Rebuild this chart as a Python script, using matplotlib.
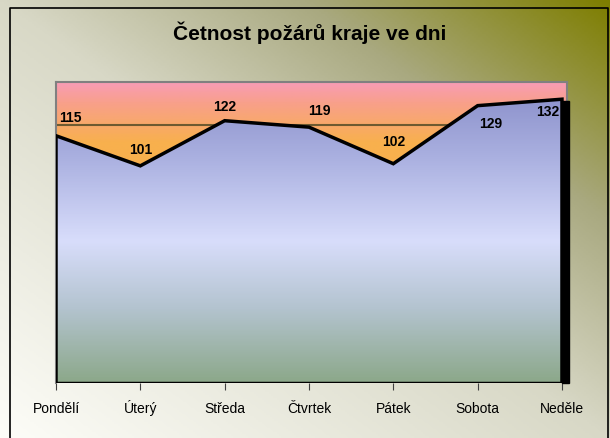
import numpy as np
import matplotlib.pyplot as plt
from matplotlib.colors import LinearSegmentedColormap
from matplotlib.patches import Rectangle

plt.rcParams['font.family'] = ['Liberation Sans', 'DejaVu Sans']

dny = ['Pondělí', 'Úterý', 'Středa', 'Čtvrtek', 'Pátek', 'Sobota', 'Neděle']
pocty = [115, 101, 122, 119, 102, 129, 132]
# posun popisků (px) vůči bodu
posun_x = [14, 0, 0, 10, 0, 13, -14]
posun_y = [18, 16, 14, 16, 22, -18, -13]

W, H = 610, 438
fig = plt.figure(figsize=(W / 100, H / 100), dpi=100)

# pozadí celé plochy - diagonální přechod do olivové
bg = fig.add_axes([0, 0, 1, 1], zorder=-10)
gx, gy = np.meshgrid(np.linspace(0, 1, 300), np.linspace(1, 0, 220))
t = (gx + gy) / 2
cm_bg = LinearSegmentedColormap.from_list('bg', [(0, '#fdfdf8'), (0.5, '#d8d8c6'),
                                                (0.75, '#a9a980'), (1, '#7e7e00')])
bg.imshow(t, cmap=cm_bg, extent=[0, W, 0, H], aspect='auto', origin='upper')
bg.plot([10, 10, 608, 608], [-5, H - 8, H - 8, -5], color='black', lw=1.2)
bg.set_xlim(0, W)
bg.set_ylim(0, H)
bg.axis('off')

left, right, top, bottom = 56, 567, 82, 383
ax = fig.add_axes([left / W, (H - bottom) / H, (right - left) / W, (bottom - top) / H])
krok = 84.33
x = np.arange(len(dny))
ax.set_xlim(0, (right - left) / krok)
ax.set_ylim(0, 140)

# pozadí grafu: růžová nahoře, oranžová níže
cm_plot = LinearSegmentedColormap.from_list('pl', [(0, '#f8b04a'), (0.8, '#f8b04e'),
                                                  (0.93, '#f8a08a'), (1, '#f89cb6')])
yy = np.linspace(0, 1, 200).reshape(-1, 1)
ax.imshow(yy, cmap=cm_plot, extent=[0, 6.06, 0, 140], aspect='auto', origin='lower', zorder=0)

for g in range(20, 140, 20):
    ax.axhline(g, color='#6e5a30', lw=1.5, zorder=1)

# plocha s přechodem
cm_area = LinearSegmentedColormap.from_list('ar', [(0, '#8ca88a'), (0.25, '#b4c4d0'),
                                                  (0.47, '#d8ddfb'), (0.75, '#aab0e0'),
                                                  (1, '#878cc8')])
poly = ax.fill_between(x, pocty, 0, color='none', zorder=2)
img = ax.imshow(yy, cmap=cm_area, extent=[0, 6.06, 0, 140], aspect='auto',
                origin='lower', zorder=2)
img.set_clip_path(poly.get_paths()[0], transform=ax.transData)

ax.plot(np.r_[0, x, 6], np.r_[0, pocty, 0], color='black', lw=2.5, zorder=3,
        solid_joinstyle='miter')
ax.plot([0, 6], [0, 0], color='black', lw=2.5, zorder=3)
ax.add_patch(Rectangle((6, 0), 7 / krok, pocty[-1] - 1, color='black', zorder=3,
                       clip_on=False))

for i, v in enumerate(pocty):
    ax.annotate(str(v), (x[i], v), xytext=(posun_x[i], posun_y[i]),
                textcoords='offset pixels', ha='center', va='center',
                fontsize=10, fontweight='bold', zorder=5)

for s in ['top', 'right', 'left']:
    ax.spines[s].set_color('#808080')
    ax.spines[s].set_linewidth(1.5)
ax.spines['bottom'].set_visible(False)
ax.set_xticks(x)
ax.set_xticklabels([])
ax.tick_params(axis='x', length=5, color='#404040')
ax.set_yticks([])
for i, d in enumerate(dny):
    ax.text(x[i], -30 / (bottom - top), d, transform=ax.get_xaxis_transform(),
            ha='center', va='baseline', fontsize=10)

fig.text(310 / W, 1 - 33 / H, 'Četnost požárů kraje ve dni', ha='center', va='center',
         fontsize=15, fontweight='bold')

fig.savefig('out.png', dpi=100)
